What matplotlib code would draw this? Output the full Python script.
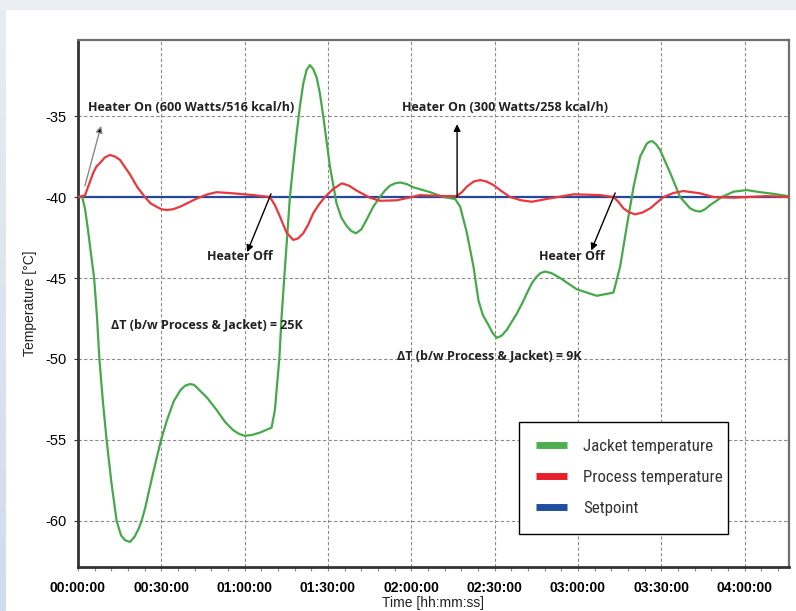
import matplotlib

matplotlib.use("Agg")
import matplotlib.pyplot as plt  # noqa: E402
import numpy as np  # noqa: E402
from matplotlib import font_manager  # noqa: E402
from matplotlib.lines import Line2D  # noqa: E402
from matplotlib.patches import Rectangle  # noqa: E402
from matplotlib.ticker import FuncFormatter, MultipleLocator  # noqa: E402

# time in minutes, temperature in °C
JACKET_T = [0, 1.5, 2.5, 3.5, 4.6, 5.8, 6.8, 7.7, 9.0, 10.3, 12.0, 13.9, 15.5, 17.0,
            18.7, 20.3, 21.8, 22.9, 24.2, 25.5, 26.7, 27.8, 29.9, 32.0, 34.5, 37.0,
            38.6, 40.3, 41.8, 43.0, 46.5, 49.9, 53.0, 55.9, 57.9, 60.0, 62.5, 65.5,
            69.7, 70.9, 72.5, 73.3, 74.3, 76.3, 77.5, 78.7, 79.9, 81.1, 82.3, 83.5,
            84.7, 85.9, 87.1, 88.3, 90.7, 93.1, 94.9, 96.8, 98.4, 100.1, 102.0, 103.9,
            106.3, 108.7, 110.5, 112.3, 114.2, 116.0, 118.4, 120.8, 126.8, 131.5,
            135.8, 137.6, 140.0, 142.4, 144.2, 145.8, 147.8, 149.3, 150.8, 152.6,
            154.4, 158.0, 160.4, 161.6, 163.5, 165.0, 166.5, 168.2, 170.5, 173.6,
            179.6, 186.8, 192.8, 195.2, 197.6, 200.0, 202.4, 204.8, 205.8, 206.8,
            208.2, 209.6, 213.2, 216.8, 220.4, 222.2, 224.0, 225.8, 227.6, 231.8,
            236.0, 240.8, 245.6, 250.4, 255.9]
JACKET_V = [-40.0, -40.0, -40.7, -41.9, -43.4, -45.0, -47.3, -50.0, -52.7, -55.0, -57.6,
            -60.0, -60.9, -61.2, -61.3, -61.0, -60.5, -60.0, -59.2, -58.2, -57.3, -56.5,
            -55.0, -53.8, -52.6, -51.9, -51.65, -51.55, -51.6, -51.8, -52.4, -53.15,
            -53.9, -54.4, -54.62, -54.75, -54.7, -54.55, -54.24, -53.15, -49.96, -47.4,
            -44.9, -40.0, -38.0, -36.1, -34.4, -33.0, -32.15, -31.85, -32.1, -32.6,
            -33.6, -35.0, -38.1, -40.4, -41.3, -41.8, -42.1, -42.24, -42.0, -41.4,
            -40.6, -40.0, -39.6, -39.3, -39.15, -39.1, -39.2, -39.4, -39.7, -40.0,
            -40.12, -40.6, -42.2, -44.3, -46.4, -47.3, -47.9, -48.4, -48.7, -48.55,
            -48.2, -47.2, -46.4, -45.95, -45.3, -44.95, -44.7, -44.6, -44.7, -45.0,
            -45.7, -46.1, -45.9, -44.3, -41.8, -39.4, -37.5, -36.7, -36.58, -36.55,
            -36.75, -37.1, -38.5, -40.0, -40.7, -40.85, -40.9, -40.75, -40.5, -40.0,
            -39.67, -39.57, -39.7, -39.8, -39.95]

PROCESS_T = [0, 2.5, 4.0, 5.5, 6.7, 7.9, 9.7, 11.5, 13.3, 15.1, 18.7, 21.4, 24.1, 26.2,
             28.3, 30.0, 31.9, 34.3, 36.7, 39.7, 42.7, 46.3, 49.9, 55.9, 63.1, 69.1,
             70.9, 72.7, 75.1, 77.5, 79.3, 81.1, 82.9, 84.7, 86.8, 88.9, 91.9, 95.0,
             97.6, 100.3, 105.1, 108.7, 114.8, 123.2, 131.5, 136.4, 138.2, 140.0,
             142.4, 144.8, 147.2, 149.6, 152.6, 155.6, 159.5, 163.4, 170.0, 178.4,
             188.0, 192.8, 194.6, 196.4, 198.5, 200.6, 203.3, 206.0, 208.4, 210.8,
             214.4, 218.0, 224.0, 228.8, 236.0, 248.0, 255.9]
PROCESS_V = [-40.0, -39.9, -39.2, -38.5, -38.1, -37.9, -37.55, -37.4, -37.5, -37.7,
             -38.6, -39.4, -40.0, -40.4, -40.6, -40.75, -40.8, -40.75, -40.6, -40.35,
             -40.1, -39.85, -39.7, -39.77, -39.88, -40.0, -40.5, -41.2, -42.2, -42.65,
             -42.55, -42.24, -41.7, -41.0, -40.45, -40.0, -39.5, -39.15, -39.3, -39.6,
             -40.04, -40.23, -40.2, -39.88, -39.94, -39.94, -39.7, -39.36, -39.05,
             -38.95, -39.05, -39.26, -39.65, -40.0, -40.2, -40.29, -40.08, -39.83,
             -39.88, -40.0, -40.3, -40.7, -40.95, -41.07, -40.95, -40.7, -40.35, -40.0,
             -39.75, -39.63, -39.77, -40.0, -40.04, -39.94, -40.0]

SETPOINT_T = [0, 256]
SETPOINT_V = [-40.0, -40.0]

SERIES_LABELS = ["Jacket temperature", "Process temperature", "Setpoint"]
SERIES_COLORS = ["#46a949", "#e8383d", "#24489c"]
LEGEND_COLORS = ["#4cb050", "#e8202a", "#1f4f9e"]

Y_TICKS = [-35, -40, -45, -50, -55, -60]
X_TICKS = [0, 30, 60, 90, 120, 150, 180, 210, 240]

# (text, text pos, arrow tail, arrow head, shaft colour)
HEATER_NOTES = [
    ("Heater On (600 Watts/516 kcal/h)", (3.6, -34.45), (2.5, -39.3), (8.3, -35.6), "#888888"),
    ("Heater Off", (46.3, -43.7), (69.5, -39.8), (60.9, -43.4), "black"),
    ("Heater On (300 Watts/258 kcal/h)", (116.8, -34.45), (136.5, -40.0), (136.5, -35.5), "black"),
    ("Heater Off", (166.0, -43.7), (193.4, -39.75), (184.8, -43.3), "black"),
]
DELTA_NOTES = [
    ("ΔT (b/w Process & Jacket) = 25K", (12.0, -47.9)),
    ("ΔT (b/w Process & Jacket) = 9K", (114.8, -49.8)),
]


def pick_font(names):
    for name in names:
        try:
            font_manager.findfont(name, fallback_to_default=False)
            return name
        except ValueError:
            continue
    return "DejaVu Sans"


def hms(x, _pos):
    m = int(round(x))
    return f"{m // 60:02d}:{m % 60:02d}:00"


BASE_FONT = pick_font(["Liberation Sans", "Arial"])
NOTE_FONT = pick_font(["Open Sans", "Lato"])
LEGEND_FONT = pick_font(["Liberation Sans Narrow", "Roboto Condensed", "Roboto"])
plt.rcParams["font.family"] = [BASE_FONT, "DejaVu Sans"]
plt.rcParams["axes.unicode_minus"] = False

W, H = 796, 611
fig = plt.figure(figsize=(W / 100, H / 100), dpi=100, facecolor="white")

# page frame: light strip across the top, bluish strip down the left edge
fig.patches.append(Rectangle((0, 1 - 10 / H), 1, 10 / H, transform=fig.transFigure,
                             facecolor="#eaeef3", edgecolor="none", zorder=0))
strip = fig.add_axes([0, 0, 6 / W, 1 - 10 / H])
grad = np.linspace(0, 1, 256).reshape(-1, 1)
strip.imshow(grad, aspect="auto", cmap=matplotlib.colors.LinearSegmentedColormap.from_list(
    "edge", ["#e8edf3", "#d0dceb"]))
strip.set_axis_off()

ax = fig.add_axes([78 / W, 1 - 567 / H, (789 - 78) / W, (567 - 40) / H])
ax.set_facecolor("white")

ax.plot(SETPOINT_T, SETPOINT_V, color=SERIES_COLORS[2], lw=1.6, zorder=3)
ax.plot(JACKET_T, JACKET_V, color=SERIES_COLORS[0], lw=1.6, zorder=4)
ax.plot(PROCESS_T, PROCESS_V, color=SERIES_COLORS[1], lw=1.6, zorder=5)

ax.set_xlim(0, 256)
ax.set_ylim(-62.85, -30.3)
ax.set_xticks(X_TICKS)
ax.xaxis.set_minor_locator(MultipleLocator(6))
ax.xaxis.set_major_formatter(FuncFormatter(hms))
ax.set_yticks(Y_TICKS)

ax.grid(True, which="major", color="#8c8c8c", lw=0.8, ls=(0, (3, 2)))
ax.set_axisbelow(True)

for s in ("left", "bottom"):
    ax.spines[s].set_color("#333333")
    ax.spines[s].set_linewidth(2.0)
for s in ("top", "right"):
    ax.spines[s].set_color("#6e6e6e")
    ax.spines[s].set_linewidth(1.6)

ax.tick_params(axis="x", which="both", direction="out", length=3, width=0.8,
               color="#888888", pad=7, labelsize=10)
ax.tick_params(axis="y", which="major", direction="out", length=3, width=0.8,
               color="#333333", pad=5, labelsize=10.5)
for lab in ax.get_xticklabels():
    lab.set_fontweight("bold")

ax.set_xlabel("Time [hh:mm:ss]", fontsize=10, labelpad=1, color="#222222")
ax.set_ylabel("Temperature [°C]", fontsize=10, labelpad=6, color="#222222")

for text, pos, tail, head, lc in HEATER_NOTES:
    ax.annotate("", xy=head, xytext=tail,
                arrowprops=dict(arrowstyle="-|>", color=lc, lw=1.0, mutation_scale=10,
                                shrinkA=0, shrinkB=0, fc="black", ec=lc),
                zorder=6)
    ax.text(pos[0], pos[1], text, fontsize=9, fontweight="bold", family=NOTE_FONT,
            color="#222222", ha="left", va="center", zorder=7)

for text, pos in DELTA_NOTES:
    ax.text(pos[0], pos[1], text, fontsize=9, fontweight="bold",
            family=[NOTE_FONT, "DejaVu Sans"], color="#222222", ha="left", va="center",
            zorder=7)

# legend: drawn frameless on top of its own box
ax.add_patch(Rectangle((519 / W, 1 - 534 / H), (728 - 519) / W, (534 - 422) / H,
                       transform=fig.transFigure, facecolor="white", clip_on=False,
                       edgecolor="black", lw=1.0, zorder=9))
handles = [Line2D([], [], color=c, lw=5, solid_capstyle="butt") for c in LEGEND_COLORS]
leg = ax.legend(handles, SERIES_LABELS, loc="upper left",
                bbox_to_anchor=(536 / W, 1 - 439 / H), bbox_transform=fig.transFigure,
                borderaxespad=0, borderpad=0, frameon=False,
                prop={"family": LEGEND_FONT, "size": 12.2},
                handlelength=1.85, handletextpad=0.95, labelspacing=0.95)
leg.set_zorder(10)
for t in leg.get_texts():
    t.set_color("#333333")

fig.savefig("out.png", dpi=100, facecolor="white")
